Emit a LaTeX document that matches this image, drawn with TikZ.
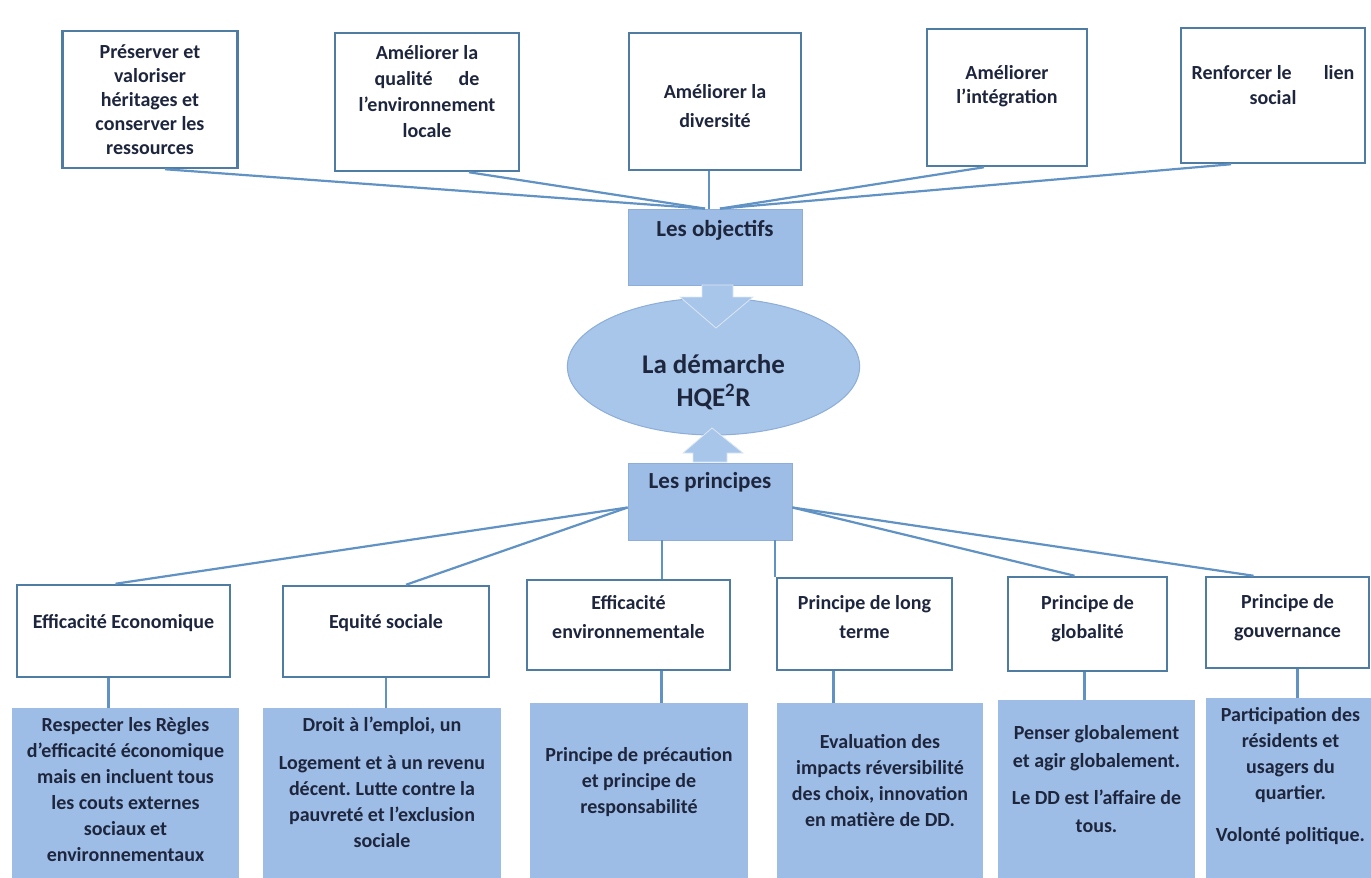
\documentclass[tikz,border=0pt]{standalone}
\usepackage{fontspec}
\setmainfont{Carlito}
\frenchspacing
\usetikzlibrary{shapes.geometric}

\definecolor{boxedge}{RGB}{78,124,162}
\definecolor{linkcol}{RGB}{96,146,196}
\definecolor{pale}{RGB}{158,189,230}
\definecolor{ovalfill}{RGB}{168,197,234}
\definecolor{ovaledge}{RGB}{140,174,216}
\definecolor{ink}{RGB}{30,38,62}

\begin{document}
\begin{tikzpicture}[x=1pt, y=-1pt,
    wide/.style={minimum width=#1pt, text width=#1pt-10pt},
    lift/.style={text height=15pt, text depth=#1pt},
    topbox/.style={draw=boxedge, line width=2.5pt, fill=white, align=flush center, inner sep=2pt,
      text=ink, font=\bfseries\fontsize{20}{24}\selectfont},
    midbox/.style={topbox, font=\bfseries\fontsize{20}{29}\selectfont},
    bluebox/.style={fill=pale, align=flush center, inner sep=2pt, text=ink,
      font=\bfseries\fontsize{20}{26}\selectfont},
    headbox/.style={fill=pale, draw=ovaledge, line width=0.8pt, inner sep=2pt, text=ink,
      font=\bfseries\fontsize{23}{28}\selectfont, text height=17pt, text depth=#1},
    conn/.style={draw=linkcol, line width=2.2pt},
    bigarrow/.style={fill=ovalfill, draw=white!70!ovaledge, line width=0.8pt}
  ]
  \fill[white] (0,0) rectangle (1371,878);
  \useasboundingbox (0,0) rectangle (1371,878);

  % objectifs
  \node[topbox, wide=175, lift=98, minimum height=137] (o1) at (150,99.5) {Préserver et\\valoriser\\héritages et\\conserver les\\ressources};
  \node[topbox, wide=184, lift=101, minimum height=138, font=\bfseries\fontsize{20}{26}\selectfont] (o2) at (427,102) {Améliorer la\\qualité\hspace{1.3em}de\\l'environnement\\locale};
  \node[topbox, wide=172, lift=22, minimum height=137, font=\bfseries\fontsize{20}{29}\selectfont] (o3) at (715,101.5) {Améliorer la\\diversité};
  \node[topbox, wide=160, lift=52, minimum height=137] (o4) at (1007,97.5) {Améliorer\\l'intégration};
  \node[topbox, wide=184, lift=48, minimum height=135, font=\bfseries\fontsize{20}{25}\selectfont] (o5) at (1273,95.5) {Renforcer le\hspace{1.6em}lien\\social};

  \node[headbox=39pt, minimum width=174, minimum height=76] (obj) at (715,247) {Les objectifs};

  \draw[conn] ([xshift=15]o1.south) -- ([xshift=-10]obj.north);
  \draw[conn] ([xshift=42]o2.south) -- ([xshift=-10]obj.north);
  \draw[conn] ([xshift=-6]o3.south) -- ([xshift=-6]obj.north);
  \draw[conn] ([xshift=-23]o4.south) -- ([xshift=5]obj.north);
  \draw[conn] ([xshift=-42]o5.south) -- ([xshift=5]obj.north);

  % demarche
  \node[ellipse, fill=ovalfill, draw=ovaledge, line width=1pt, minimum width=257, minimum height=137,
    align=flush center, text width=200pt, lift=2, text=ink, font=\bfseries\fontsize{27}{33}\selectfont] (hqe) at (713.5,366.5)
    {La démarche\\HQE\textsuperscript{2}R};

  \node[headbox=44pt, minimum width=164, minimum height=77] (prin) at (710,501.5) {Les principes};

  \filldraw[bigarrow] (702,285) -- (733,285) -- (733,297) -- (753,297) -- (716,328) -- (680,297) -- (702,297) -- cycle;
  \filldraw[bigarrow] (693,462) -- (727,462) -- (727,453) -- (743,453) -- (712,428) -- (683,453) -- (693,453) -- cycle;

  % principes
  \node[midbox, wide=213, lift=20, minimum height=92] (b1) at (123.5,631) {Efficacité Economique};
  \node[midbox, wide=206, lift=21, minimum height=91] (b2) at (386,631.5) {Equité sociale};
  \node[midbox, wide=203, lift=46, minimum height=90] (b3) at (628.5,625) {Efficacité\\environnementale};
  \node[midbox, wide=175, lift=44, minimum height=92] (b4) at (864.5,624) {Principe de long\\terme};
  \node[midbox, wide=159, lift=44, minimum height=94] (b5) at (1087.5,624) {Principe de\\globalité};
  \node[midbox, wide=163, lift=43, minimum height=91] (b6) at (1287.5,622.5) {Principe de\\gouvernance};

  \draw[conn] ([yshift=-6]prin.west) -- ([xshift=-8]b1.north);
  \draw[conn] ([yshift=-6]prin.west) -- ([xshift=20]b2.north);
  \draw[conn] ([xshift=-48]prin.south) -- ([xshift=-48]prin.south |- b3.north);
  \draw[conn] ([xshift=65]prin.south) -- ([xshift=65]prin.south |- b4.north);
  \draw[conn] ([yshift=-6]prin.east) -- ([xshift=-13]b5.north);
  \draw[conn] ([yshift=-6]prin.east) -- ([xshift=-34]b6.north);

  % contenus
  \node[bluebox, wide=227, lift=138, minimum height=170] (c1) at (125.5,793) {Respecter les Règles\\d'efficacité économique\\mais en incluent tous\\les couts externes\\sociaux et\\environnementaux};
  \node[bluebox, wide=238, lift=138, minimum height=170] (c2) at (382,793) {Droit à l'emploi, un\\[12pt]Logement et à un revenu\\décent. Lutte contre la\\pauvreté et l'exclusion\\sociale};
  \node[bluebox, wide=218, lift=73, minimum height=175] (c3) at (639,790.5) {Principe de précaution\\et principe de\\responsabilité};
  \node[bluebox, wide=206, lift=99, minimum height=175] (c4) at (880,790.5) {Evaluation des\\impacts réversibilité\\des choix, innovation\\en matière de DD.};
  \node[bluebox, wide=197, lift=114, minimum height=178, font=\bfseries\fontsize{20}{28}\selectfont] (c5) at (1096.5,789) {Penser globalement\\et agir globalement.\\[9pt]Le DD est l'affaire de\\tous.};
  \node[bluebox, wide=169, lift=148, minimum height=180] (c6) at (1290.5,788) {Participation des\\résidents et\\usagers du\\quartier.\\[16pt]Volonté politique.};

  \draw[conn] ([xshift=-15]b1.south) -- ([xshift=-15]b1.south |- c1.north);
  \draw[conn] (b2.south) -- (b2.south |- c2.north);
  \draw[conn] ([xshift=33]b3.south) -- ([xshift=33]b3.south |- c3.north);
  \draw[conn] ([xshift=-31]b4.south) -- ([xshift=-31]b4.south |- c4.north);
  \draw[conn] ([xshift=-3]b5.south) -- ([xshift=-3]b5.south |- c5.north);
  \draw[conn] ([xshift=10]b6.south) -- ([xshift=10]b6.south |- c6.north);
\end{tikzpicture}
\end{document}
